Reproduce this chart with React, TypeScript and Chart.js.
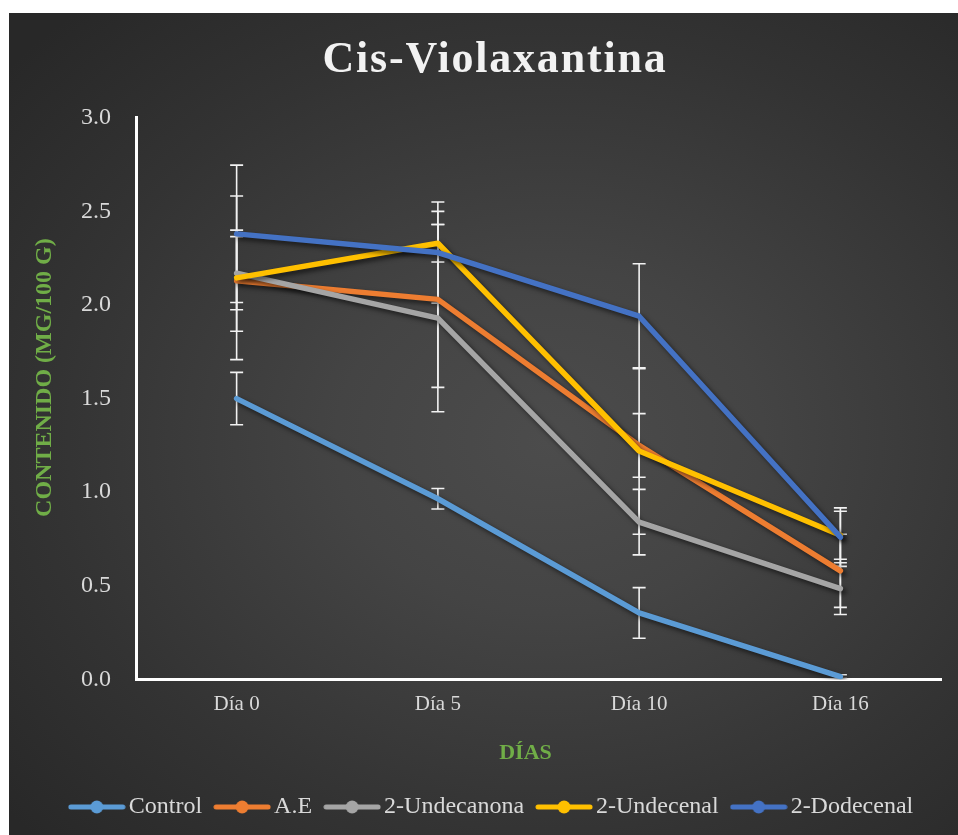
import React, { useEffect, useRef } from 'react';
import { Chart, registerables } from 'chart.js';

Chart.register(...registerables);

// ---- data ----
const DAYS = ['Día 0', 'Día 5', 'Día 10', 'Día 16'];
const SERIES_NAMES = ['Control', 'A.E', '2-Undecanona', '2-Undecenal', '2-Dodecenal'];
const CONTROL = [1.5, 0.965, 0.355, 0.015];
const CONTROL_ERR = [0.14, 0.055, 0.135, 0.01];
const AE = [2.13, 2.03, 1.25, 0.58];
const AE_ERR = [0.27, 0.47, 0.17, 0.195];
const UNDECANONA = [2.17, 1.93, 0.84, 0.485];
const UNDECANONA_ERR = [0.195, 0.5, 0.175, 0.138];
const UNDECENAL = [2.145, 2.33, 1.22, 0.77];
const UNDECENAL_ERR = [0.437, 0.1, 0.445, 0.128];
const DODECENAL = [2.38, 2.28, 1.94, 0.76];
const DODECENAL_ERR = [0.367, 0.27, 0.28, 0.156];
const SERIES_VALUES = [CONTROL, AE, UNDECANONA, UNDECENAL, DODECENAL];
const SERIES_ERRORS = [CONTROL_ERR, AE_ERR, UNDECANONA_ERR, UNDECENAL_ERR, DODECENAL_ERR];
const COLORS = ['#5B9BD5', '#ED7D31', '#A5A5A5', '#FFC000', '#4472C4'];
const Y_MIN = 0;
const Y_MAX = 3;
const Y_STEP = 0.5;

const TITLE = 'Cis-Violaxantina';
const X_TITLE = 'DÍAS';
const Y_TITLE = 'CONTENIDO (MG/100 G)';

const FONT = "'Liberation Serif', 'Times New Roman', serif";

function makeIcon(color: string): HTMLCanvasElement {
  const c = document.createElement('canvas');
  c.width = 58;
  c.height = 14;
  const g = c.getContext('2d')!;
  g.strokeStyle = color;
  g.lineWidth = 5;
  g.lineCap = 'round';
  g.beginPath();
  g.moveTo(3, 7);
  g.lineTo(55, 7);
  g.stroke();
  g.fillStyle = color;
  g.beginPath();
  g.arc(29, 7, 6.5, 0, Math.PI * 2);
  g.fill();
  return c;
}

const errorBarPlugin = {
  id: 'errorBarsAndShadow',
  beforeDatasetsDraw(chart: any) {
    const ctx = chart.ctx;
    const yScale = chart.scales.y;
    ctx.save();
    ctx.strokeStyle = '#f2f2f2';
    ctx.lineWidth = 1.6;
    chart.data.datasets.forEach((ds: any, i: number) => {
      const meta = chart.getDatasetMeta(i);
      meta.data.forEach((pt: any, j: number) => {
        const v = ds.data[j];
        const e = ds.errors[j];
        const x = pt.x;
        const yt = yScale.getPixelForValue(v + e);
        const yb = yScale.getPixelForValue(v - e);
        ctx.beginPath();
        ctx.moveTo(x, yt);
        ctx.lineTo(x, yb);
        ctx.moveTo(x - 6.5, yt);
        ctx.lineTo(x + 6.5, yt);
        ctx.moveTo(x - 6.5, yb);
        ctx.lineTo(x + 6.5, yb);
        ctx.stroke();
      });
    });
    ctx.restore();
    ctx.save();
    ctx.shadowColor = 'rgba(0,0,0,0.6)';
    ctx.shadowBlur = 5;
    ctx.shadowOffsetX = 3;
    ctx.shadowOffsetY = 3;
  },
  afterDatasetsDraw(chart: any) {
    chart.ctx.restore();
  },
};

export default function App() {
  const ref = useRef<HTMLCanvasElement | null>(null);

  useEffect(() => {
    if (!ref.current) return;
    const datasets = SERIES_NAMES.map((name, i) => ({
      label: name,
      data: SERIES_VALUES[i],
      errors: SERIES_ERRORS[i],
      borderColor: COLORS[i],
      backgroundColor: COLORS[i],
      borderWidth: 5.5,
      borderCapStyle: 'round',
      borderJoinStyle: 'round',
      pointRadius: 0,
      pointHoverRadius: 0,
      pointStyle: makeIcon(COLORS[i]),
      tension: 0,
      fill: false,
      order: SERIES_NAMES.length - 1 - i,
    }));

    const chart = new Chart(ref.current, {
      type: 'line',
      data: { labels: DAYS, datasets: datasets as any },
      plugins: [errorBarPlugin as any],
      options: {
        animation: false,
        responsive: false,
        events: [],
        layout: { padding: { left: 40, right: 17, top: 0, bottom: 6 } },
        plugins: {
          tooltip: { enabled: false },
          title: {
            display: true,
            text: TITLE,
            color: '#f2f2f2',
            font: { family: FONT, size: 44, weight: 'bold' },
            padding: { top: 21, bottom: 31 },
          },
          legend: {
            display: true,
            position: 'bottom',
            labels: {
              usePointStyle: true,
              pointStyleWidth: 40,
              boxHeight: 14,
              padding: 20,
              color: '#d9d9d9',
              font: { family: FONT, size: 24 },
              sort: (a: any, b: any) => a.datasetIndex - b.datasetIndex,
            },
          },
        },
        scales: {
          x: {
            offset: true,
            grid: { display: false, drawTicks: false },
            border: { display: true, color: '#ffffff', width: 3 },
            ticks: {
              color: '#d9d9d9',
              font: { family: FONT, size: 21 },
              padding: 12,
            },
            title: {
              display: true,
              text: X_TITLE,
              color: '#70AD47',
              font: { family: FONT, size: 22, weight: 'bold' },
              padding: { top: 12, bottom: 8 },
            },
          },
          y: {
            min: Y_MIN,
            max: Y_MAX,
            grid: { display: false, drawTicks: false },
            border: { display: true, color: '#ffffff', width: 3 },
            ticks: {
              stepSize: Y_STEP,
              color: '#d9d9d9',
              font: { family: FONT, size: 24 },
              padding: 25,
              callback: (v: any) => Number(v).toFixed(1),
            },
            title: {
              display: true,
              text: Y_TITLE,
              color: '#70AD47',
              font: { family: FONT, size: 24, weight: 'bold' },
              padding: { top: -19, bottom: 0 },
            },
            afterFit: (scale: any) => {
              scale.width = 87;
            },
          },
        },
      } as any,
    });

    // Excel-like placement tweaks: title letter spacing, axis titles nudged
    const c: any = chart as any;
    const ctx = chart.ctx as any;
    const tb = c.titleBlock;
    if (tb) {
      const origT = tb.draw.bind(tb);
      tb.draw = (...a: any[]) => {
        ctx.save();
        ctx.letterSpacing = '1.8px';
        origT(...a);
        ctx.restore();
      };
    }
    const ys = c.scales.y;
    const origY = ys.drawTitle.bind(ys);
    ys.drawTitle = (...a: any[]) => {
      ctx.save();
      ctx.translate(0, -21);
      origY(...a);
      ctx.restore();
    };
    const xs = c.scales.x;
    const origX = xs.drawTitle.bind(xs);
    xs.drawTitle = (...a: any[]) => {
      ctx.save();
      ctx.translate(-13, 0);
      origX(...a);
      ctx.restore();
    };
    chart.draw();

    return () => chart.destroy();
  }, []);

  return (
    <div
      style={{
        position: 'absolute',
        left: 9,
        top: 13,
        width: 949,
        height: 822,
        background:
          'radial-gradient(ellipse 75% 70% at 57% 52%, #4c4c4c 0%, #444444 30%, #333333 70%, #282828 100%)',
        backgroundColor: '#262626',
      }}
    >
      <canvas ref={ref} width={949} height={822} style={{ display: 'block' }} />
    </div>
  );
}
